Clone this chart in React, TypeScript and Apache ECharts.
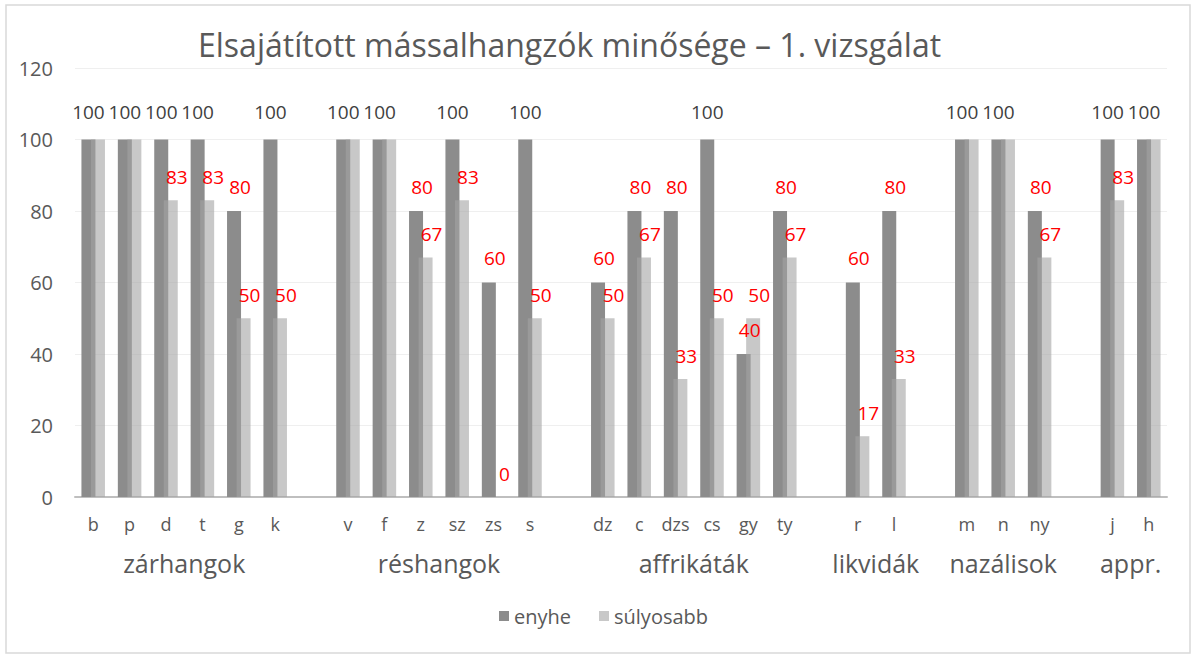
import React, { useEffect, useRef } from "react";
import * as echarts from "echarts";

const TITLE = "Elsajátított mássalhangzók minősége – 1. vizsgálat";
const SERIES_NAMES = ["enyhe", "súlyosabb"];

const groupNames = ["zárhangok", "réshangok", "affrikáták", "likvidák", "nazálisok", "appr."];
const groupSounds = [
  ["b", "p", "d", "t", "g", "k"],
  ["v", "f", "z", "sz", "zs", "s"],
  ["dz", "c", "dzs", "cs", "gy", "ty"],
  ["r", "l"],
  ["m", "n", "ny"],
  ["j", "h"],
];
const enyheGroups = [
  [100, 100, 100, 100, 80, 100],
  [100, 100, 80, 100, 60, 100],
  [60, 80, 80, 100, 40, 80],
  [60, 80],
  [100, 100, 80],
  [100, 100],
];
const sulyosabbGroups = [
  [100, 100, 83, 83, 50, 50],
  [100, 100, 67, 83, 0, 50],
  [50, 67, 33, 50, 50, 67],
  [17, 33],
  [100, 100, 67],
  [83, 100],
];
const yTicks = { min: 0, max: 120, interval: 20 };

// Build flat categories with an empty slot between groups
const categories: string[] = [];
const enyhe: (number | null)[] = [];
const sulyosabb: (number | null)[] = [];
const groupCenters: number[] = []; // in slot units from left edge
groupSounds.forEach((sounds, gi) => {
  if (gi > 0) {
    categories.push("");
    enyhe.push(null);
    sulyosabb.push(null);
  }
  const start = categories.length;
  sounds.forEach((s, i) => {
    categories.push(s);
    enyhe.push(enyheGroups[gi][i]);
    sulyosabb.push(sulyosabbGroups[gi][i]);
  });
  groupCenters.push(start + sounds.length / 2);
});
const N = categories.length;
const HALF = 2;
const groupAxisCats: string[] = [];
for (let i = 0; i <= N * HALF; i++) groupAxisCats.push("");
groupCenters.forEach((c, gi) => {
  groupAxisCats[Math.round(c * HALF)] = groupNames[gi];
});

const FONT = "Open Sans";
const GRAY = "#595959";
const RED = "#ff0000";

export default function App() {
  const ref = useRef<HTMLDivElement>(null);
  useEffect(() => {
    const chart = echarts.init(ref.current!, null, { renderer: "svg" });
    chart.setOption({
      animation: false,
      backgroundColor: "#ffffff",
      textStyle: { fontFamily: FONT },
      title: {
        text: TITLE,
        left: 190,
        top: 28,
        backgroundColor: "#ffffff",
        padding: [0, 8],
        textStyle: { fontFamily: FONT, fontSize: 32, fontWeight: "normal", color: GRAY },
      },
      legend: {
        bottom: 26,
        left: 494,
        itemWidth: 10,
        itemHeight: 10,
        itemGap: 28,
        icon: "rect",
        textStyle: { fontFamily: FONT, fontSize: 20, color: GRAY },
        data: SERIES_NAMES,
      },
      grid: { left: 75, right: 30, top: 68, bottom: 160, containLabel: false },
      xAxis: [
        {
          type: "category",
          data: categories,
          axisLine: { lineStyle: { color: "#bfbfbf", width: 2 } },
          axisTick: { show: false },
          axisLabel: { interval: 0, color: GRAY, fontSize: 18, margin: 18, fontFamily: FONT },
        },
        {
          type: "category",
          data: groupAxisCats,
          boundaryGap: false,
          position: "bottom",
          axisLine: { show: false },
          axisTick: { show: false },
          axisLabel: { interval: 0, color: GRAY, fontSize: 25, margin: 53, fontFamily: FONT },
        },
      ],
      yAxis: {
        type: "value",
        min: yTicks.min,
        max: yTicks.max,
        interval: yTicks.interval,
        axisLine: { show: false },
        axisTick: { show: false },
        axisLabel: { color: GRAY, fontSize: 20, margin: 22, fontFamily: FONT },
        splitLine: { lineStyle: { color: "#efefef", width: 1 } },
      },
      series: [
        {
          name: SERIES_NAMES[0],
          type: "bar",
          barWidth: 14,
          barGap: "-32%",
          itemStyle: { color: "#8c8c8c" },
          data: enyhe.map((v) =>
            v === null
              ? null
              : {
                  value: v,
                  label: {
                    show: true,
                    position: "top",
                    distance: v === 100 ? 18 : 15,
                    offset: v === 100 ? [0, 0] : [6, 0],
                    color: v === 100 ? "#404040" : RED,
                    fontSize: 19,
                    fontWeight: "normal",
                    fontFamily: FONT,
                  },
                }
          ),
        },
        {
          name: SERIES_NAMES[1],
          type: "bar",
          barWidth: 14,
          itemStyle: { color: "rgba(163,163,163,0.6)" },
          data: sulyosabb.map((v) =>
            v === null
              ? null
              : {
                  value: v,
                  label: {
                    show: v !== 100,
                    position: "top",
                    distance: 14,
                    offset: [6, 0],
                    color: RED,
                    fontSize: 19,
                    fontWeight: "normal",
                    fontFamily: FONT,
                  },
                }
          ),
        },
      ],
      graphic: [
        {
          type: "rect",
          shape: { x: 6, y: 5, width: 1184, height: 648 },
          style: { fill: "none", stroke: "#d9d9d9", lineWidth: 1.5 },
          silent: true,
          z: 0,
        },
      ],
    });
    return () => chart.dispose();
  }, []);
  return (
    <div
      ref={ref}
      style={{ position: "fixed", left: 0, top: 0, width: 1197, height: 657 }}
    />
  );
}
